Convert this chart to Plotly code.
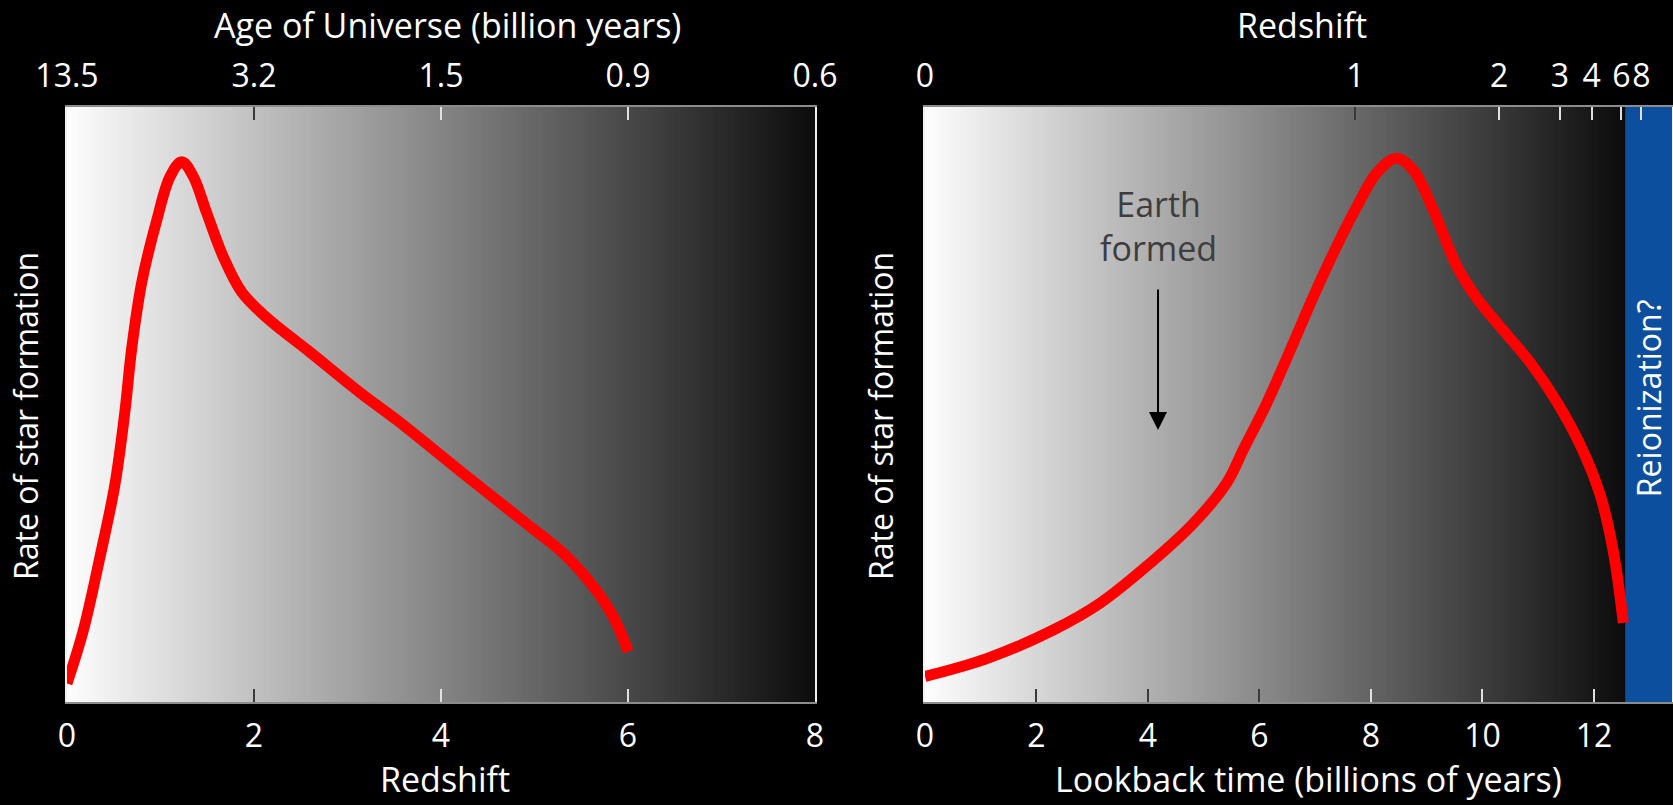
import numpy as np
import plotly.graph_objects as go

# ---------------- data ----------------
# Left panel: star formation rate vs redshift
left_z = [0.0, 0.174, 0.353, 0.513, 0.620, 0.692, 0.799, 0.959, 1.102, 1.227, 1.351,
          1.494, 1.672, 1.868, 2.136, 2.599, 3.134, 3.526, 4.238, 4.952, 5.308, 5.629,
          5.843, 6.003]
left_rate = [0.031, 0.120, 0.244, 0.366, 0.489, 0.594, 0.705, 0.809, 0.883, 0.908, 0.883,
             0.822, 0.748, 0.689, 0.646, 0.588, 0.520, 0.474, 0.384, 0.295, 0.250, 0.194,
             0.143, 0.085]

# Right panel: star formation rate vs lookback time
right_t = [0.0, 1.107, 2.301, 3.139, 4.036, 4.813, 5.412, 5.709, 6.129, 6.606, 6.965,
           7.324, 7.744, 8.102, 8.461, 8.759, 9.118, 9.537, 9.896, 10.314, 10.852, 11.331,
           11.749, 12.108, 12.347, 12.526]
right_rate = [0.043, 0.073, 0.121, 0.166, 0.233, 0.300, 0.368, 0.424, 0.502, 0.603, 0.681,
              0.754, 0.832, 0.889, 0.914, 0.894, 0.827, 0.733, 0.679, 0.631, 0.571, 0.505,
              0.433, 0.349, 0.253, 0.133]

# Axis ticks
left_bottom_ticks = [0, 2, 4, 6, 8]
left_top_labels = ["13.5", "3.2", "1.5", "0.9", "0.6"]   # age of universe at those redshifts
right_bottom_ticks = [0, 2, 4, 6, 8, 10, 12]
right_top_pos = [0.0, 7.72, 10.3, 11.39, 11.96, 12.49, 12.85]  # lookback time of redshift ticks
right_top_labels = ["0", "1", "2", "3", "4", "6", "8"]

LEFT_RANGE = [0, 8]
RIGHT_RANGE = [0, 13.4]
REION_START = 12.56
EARTH_T = 4.18

FONT = "Open Sans"
FS = 32
TFS = 34
YFS = 32
DARK_TICK = "#3a3a3a"
LIGHT_TICK = "#e0e0e0"
FRAME = "#8c8c8c"

fig = go.Figure()

# background gradients (heatmap with cell edges)
def gradient(x0, x1, xa, ya):
    n = 300
    edges = np.linspace(x0, x1, n + 1)
    vals = np.linspace(0, 1, n)
    fig.add_trace(go.Heatmap(x=edges, y=[0, 1], z=[vals], xaxis=xa, yaxis=ya,
                             colorscale=[[0, "#fdfdfd"], [1, "#0c0c0c"]],
                             showscale=False, hoverinfo="skip"))

gradient(LEFT_RANGE[0], LEFT_RANGE[1], "x", "y")
gradient(RIGHT_RANGE[0], REION_START, "x5", "y2")

# red curves
fig.add_trace(go.Scatter(x=left_z, y=left_rate, mode="lines", xaxis="x", yaxis="y",
                         line=dict(color="#ff0000", width=11, shape="spline", smoothing=1.0),
                         hoverinfo="skip", showlegend=False))
fig.add_trace(go.Scatter(x=right_t, y=right_rate, mode="lines", xaxis="x5", yaxis="y2",
                         line=dict(color="#ff0000", width=11, shape="spline", smoothing=1.0),
                         hoverinfo="skip", showlegend=False))

# empty traces so overlay axes render
for xa, ya in [("x2", "y"), ("x3", "y"), ("x4", "y"), ("x6", "y2"), ("x7", "y2"), ("x8", "y2")]:
    fig.add_trace(go.Scatter(x=[None], y=[None], xaxis=xa, yaxis=ya, showlegend=False,
                             hoverinfo="skip"))

# reionization band
fig.add_shape(type="rect", x0=REION_START, x1=RIGHT_RANGE[1], xref="x5", yref="y2 domain",
              y0=0, y1=1, fillcolor="#0c4f9f", line_width=0, layer="below")

tickfont = dict(family=FONT, size=FS, color="white")

def label_axis(rng, vals, text, side, dark_vals, overlay=None, domain=None, anchor="y"):
    d = dict(range=rng, tickmode="array", tickvals=vals, ticktext=text, ticks="",
             side=side, anchor=anchor, showgrid=False, zeroline=False,
             showline=True, linecolor=FRAME, linewidth=2, tickfont=tickfont,
             fixedrange=True, ticklabelstandoff=5, tickangle=0, automargin=False,
             minor=dict(tickmode="array", tickvals=dark_vals, ticks="inside", ticklen=13,
                        tickwidth=2, tickcolor=DARK_TICK, showgrid=False))
    if overlay:
        d["overlaying"] = overlay
    if domain:
        d["domain"] = domain
    return d

def tick_axis(rng, vals, side, overlay, anchor="y"):
    return dict(range=rng, tickmode="array", tickvals=vals, ticks="inside", ticklen=13,
                tickwidth=2, tickcolor=LIGHT_TICK, showticklabels=False, side=side,
                overlaying=overlay, anchor=anchor, showgrid=False, zeroline=False,
                showline=False, fixedrange=True, automargin=False)

def y_axis(anchor):
    return dict(domain=[0, 1], range=[0, 1], anchor=anchor, showticklabels=False, ticks="",
                showgrid=False, zeroline=False, showline=True, mirror=True,
                linecolor="#f0f0f0", linewidth=2, fixedrange=True, automargin=False)

LD = [0, 0.46604]
RD = [0.53458, 1.0]

fig.update_layout(
    width=1673, height=805, autosize=False,
    paper_bgcolor="black", plot_bgcolor="black",
    margin=dict(l=67, r=1, t=107, b=103),
    showlegend=False,
    font=dict(family=FONT, size=FS, color="white"),
    xaxis=label_axis(LEFT_RANGE, left_bottom_ticks, [str(v) for v in left_bottom_ticks],
                     "bottom", [2], domain=LD),
    xaxis3=tick_axis(LEFT_RANGE, [4, 6], "bottom", "x"),
    xaxis2=label_axis(LEFT_RANGE, left_bottom_ticks, left_top_labels, "top", [2], overlay="x"),
    xaxis4=tick_axis(LEFT_RANGE, [4, 6], "top", "x"),
    yaxis=y_axis("x"),
    xaxis5=label_axis(RIGHT_RANGE, right_bottom_ticks, [str(v) for v in right_bottom_ticks],
                      "bottom", [2, 4, 6], domain=RD, anchor="y2"),
    xaxis7=tick_axis(RIGHT_RANGE, [8, 10, 12], "bottom", "x5", anchor="y2"),
    xaxis6=label_axis(RIGHT_RANGE, right_top_pos, right_top_labels, "top", [7.72],
                      overlay="x5", anchor="y2"),
    xaxis8=tick_axis(RIGHT_RANGE, right_top_pos[2:], "top", "x5", anchor="y2"),
    yaxis2=y_axis("x5"),
)

ann = []
def title(text, x, y, angle=0, size=TFS):
    ann.append(dict(text=text, x=x, y=y, xref="paper", yref="paper", showarrow=False,
                    xanchor="center", yanchor="middle", textangle=angle,
                    font=dict(family=FONT, size=size, color="white")))

title("Age of Universe (billion years)", 0.2368, 1.138)
title("Redshift", 0.2353, -0.13)
title("Redshift", 0.7695, 1.138)
title("Lookback time (billions of years)", 0.7738, -0.13)
title("Rate of star formation", -0.0255, 0.4807, angle=-90, size=YFS)
title("Rate of star formation", 0.5072, 0.4807, angle=-90, size=YFS)

# Earth formed arrow + text
ann.append(dict(x=EARTH_T, y=0.457, xref="x5", yref="y2", ax=EARTH_T, ay=0.696,
                axref="x5", ayref="y2", text="", showarrow=True, arrowhead=2,
                arrowsize=1.8, arrowwidth=2, arrowcolor="black"))
ann.append(dict(x=EARTH_T, y=0.80, xref="x5", yref="y2", text="Earth<br>formed",
                showarrow=False, xanchor="center", yanchor="middle",
                font=dict(family=FONT, size=34, color="#3d3d3d")))
ann.append(dict(x=(REION_START + RIGHT_RANGE[1]) / 2, y=0.51, xref="x5", yref="y2",
                text="Reionization?", showarrow=False, textangle=-90,
                xanchor="center", yanchor="middle",
                font=dict(family=FONT, size=32, color="white")))
fig.update_layout(annotations=ann)

fig.write_html("out.html",
               config={"responsive": False, "displayModeBar": False},
               post_script="document.body.style.margin='0';"
                           "document.body.style.background='black';"
                           "document.body.style.overflow='hidden';")
